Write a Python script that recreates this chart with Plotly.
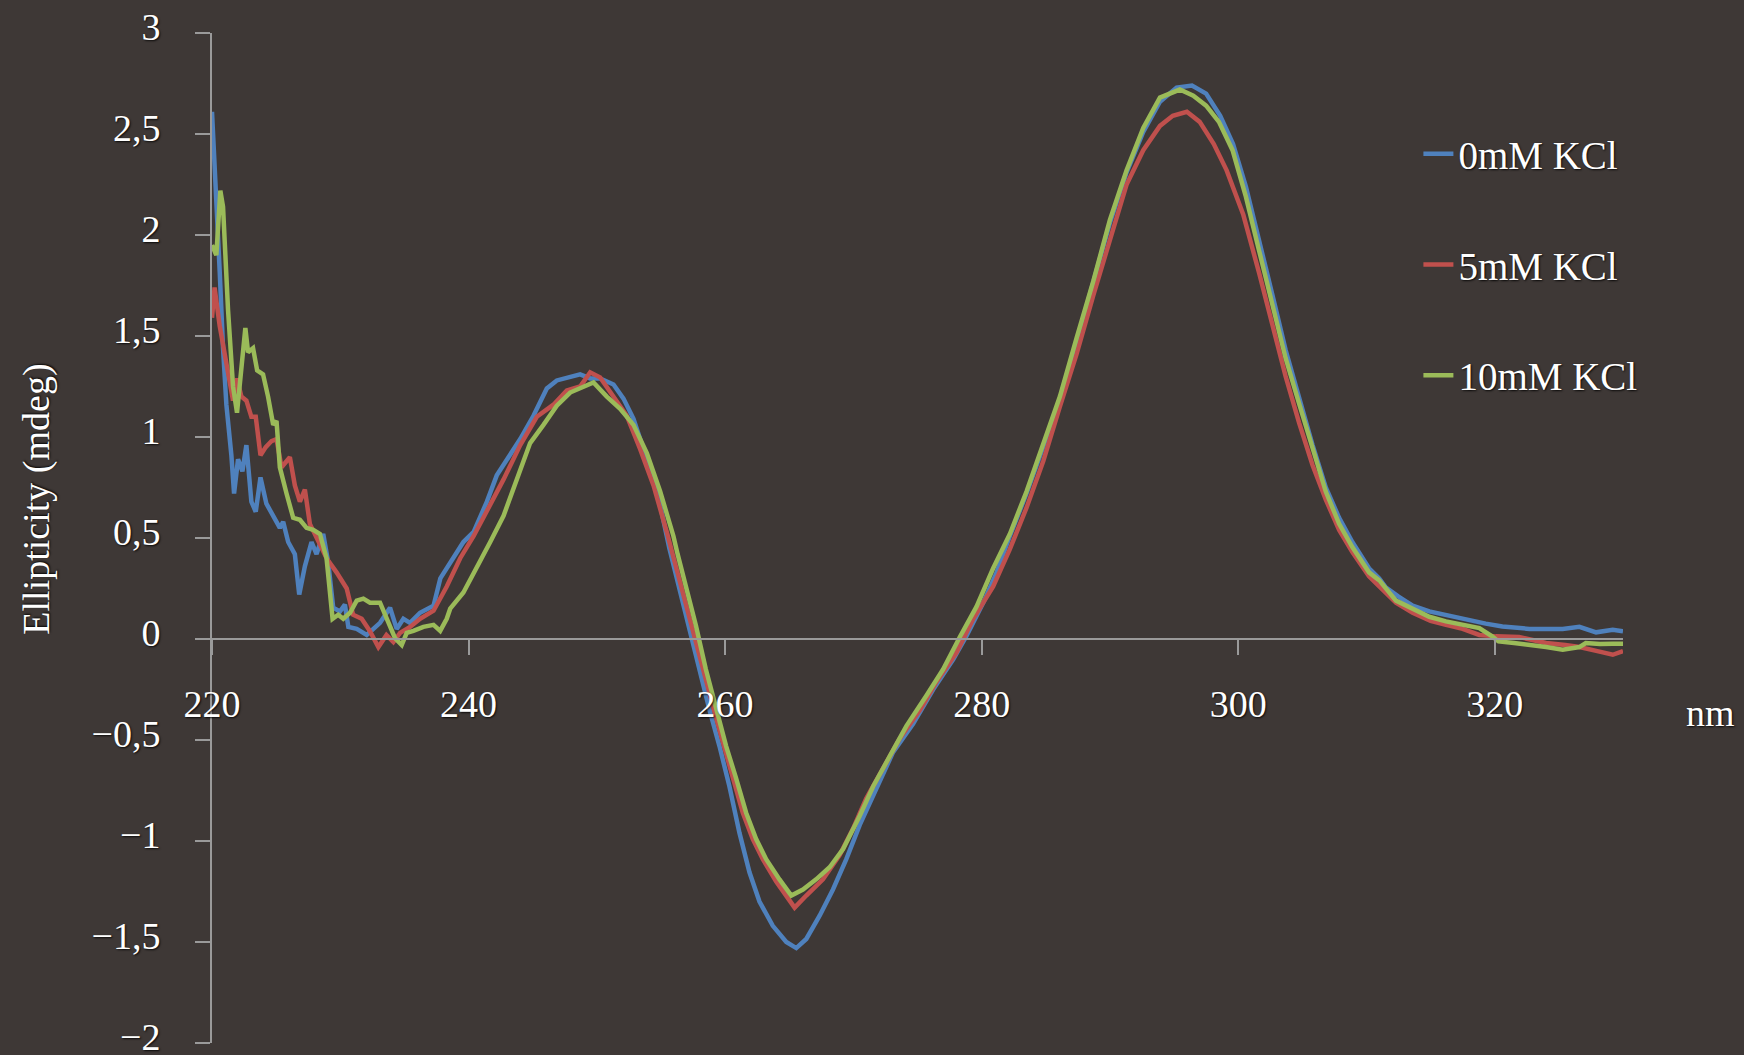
import plotly.graph_objects as go

# ---------------- data ----------------
wl_0mM = [220.0, 220.34, 220.6, 220.86, 221.12, 221.51, 221.72, 222.03, 222.37, 222.68, 223.07, 223.41,
          223.78, 224.24, 224.77, 225.29, 225.55, 225.94, 226.46, 226.8, 227.24, 227.76, 228.15, 228.67,
          229.06, 229.45, 229.97, 230.36, 230.63, 231.28, 232.06, 232.45, 233.1, 233.88, 234.4, 234.92,
          235.44, 236.22, 237.27, 237.8, 238.57, 239.6, 240.4, 241.43, 242.2, 242.99, 244.03, 245.06,
          246.1, 246.88, 247.92, 248.7, 249.48, 250.26, 251.3, 252.08, 252.86, 253.64, 254.68, 255.65,
          256.43, 257.2, 258.0, 258.78, 259.56, 260.34, 261.12, 261.9, 262.68, 263.72, 264.77, 265.55,
          266.33, 267.37, 268.41, 269.45, 270.5, 271.8, 273.1, 274.66, 276.22, 277.79, 278.83, 280.13,
          281.17, 282.2, 283.5, 284.8, 286.1, 287.4, 288.7, 290.0, 291.3, 292.6, 293.9, 295.2, 296.4,
          297.5, 298.6, 299.6, 300.6, 301.64, 302.68, 303.7, 304.75, 305.8, 306.83, 307.87, 308.9,
          310.2, 311.0, 311.5, 312.5, 313.6, 314.9, 316.7, 318.0, 319.3, 320.6, 322.7, 324.0, 325.3,
          326.6, 327.9, 329.2, 330.0]
cd_0mM = [2.61, 2.20, 1.82, 1.44, 1.16, 0.91, 0.72, 0.89, 0.83, 0.96, 0.68, 0.63,
          0.80, 0.67, 0.61, 0.55, 0.58, 0.48, 0.42, 0.22, 0.36, 0.48, 0.42, 0.52,
          0.38, 0.155, 0.136, 0.17, 0.06, 0.05, 0.02, 0.04, 0.08, 0.155, 0.05, 0.10,
          0.08, 0.13, 0.165, 0.30, 0.38, 0.48, 0.53, 0.68, 0.81, 0.89, 0.99, 1.105,
          1.24, 1.28, 1.30, 1.31, 1.29, 1.29, 1.26, 1.19, 1.09, 0.94, 0.74, 0.45,
          0.25, 0.05, -0.15, -0.35, -0.53, -0.73, -0.96, -1.155, -1.30, -1.42, -1.50, -1.53,
          -1.485, -1.37, -1.24, -1.09, -0.92, -0.74, -0.56, -0.42, -0.25, -0.10, 0.016, 0.18,
          0.33, 0.51, 0.72, 0.95, 1.19, 1.47, 1.76, 2.06, 2.31, 2.51, 2.66, 2.73, 2.74,
          2.70, 2.59, 2.45, 2.24, 1.98, 1.70, 1.43, 1.185, 0.96, 0.75, 0.60, 0.48,
          0.35, 0.30, 0.256, 0.21, 0.165, 0.137, 0.11, 0.095, 0.076, 0.062, 0.05, 0.05, 0.05,
          0.06, 0.033, 0.046, 0.038]

wl_5mM = [220.0, 220.2, 220.6, 221.0, 221.25, 221.64, 221.95, 222.29, 222.68, 223.07, 223.41, 223.78,
          224.19, 224.64, 225.03, 225.42, 226.07, 226.46, 226.85, 227.24, 227.63, 228.15, 228.93, 229.71,
          230.5, 231.0, 231.67, 232.3, 232.97, 233.6, 234.14, 234.66, 235.44, 236.22, 237.27, 238.3,
          239.35, 240.4, 241.43, 242.73, 244.03, 245.32, 246.62, 247.66, 248.7, 249.48, 250.26, 251.3,
          252.34, 253.38, 254.42, 255.45, 255.9, 256.7, 257.47, 258.26, 259.04, 259.82, 260.6, 261.38,
          262.16, 262.94, 263.98, 264.77, 265.42, 266.33, 267.63, 268.93, 269.97, 271.0, 272.3, 273.6,
          275.2, 276.5, 278.05, 279.35, 280.9, 282.2, 283.5, 284.8, 286.1, 287.4, 288.7, 290.0,
          291.3, 292.6, 293.9, 294.9, 296.0, 297.0, 298.1, 299.1, 300.4, 301.64, 302.68, 303.7,
          304.75, 305.8, 306.83, 307.87, 308.9, 310.2, 311.0, 312.3, 313.6, 315.0, 316.2, 317.5,
          318.8, 320.1, 321.9, 324.0, 325.5, 326.6, 328.0, 329.2, 330.0]
cd_5mM = [1.59, 1.74, 1.55, 1.40, 1.31, 1.18, 1.29, 1.20, 1.18, 1.10, 1.10, 0.91,
          0.95, 0.98, 0.99, 0.85, 0.90, 0.76, 0.68, 0.74, 0.57, 0.50, 0.40, 0.33,
          0.25, 0.12, 0.10, 0.04, -0.04, 0.02, -0.015, 0.03, 0.06, 0.10, 0.14, 0.26,
          0.40, 0.51, 0.63, 0.79, 0.96, 1.10, 1.16, 1.23, 1.25, 1.32, 1.295, 1.20,
          1.105, 0.94, 0.76, 0.53, 0.42, 0.23, 0.05, -0.15, -0.33, -0.51, -0.68, -0.86,
          -0.99, -1.09, -1.20, -1.27, -1.33, -1.27, -1.19, -1.07, -0.94, -0.79, -0.64, -0.495,
          -0.35, -0.21, -0.066, 0.10, 0.26, 0.445, 0.65, 0.88, 1.15, 1.41, 1.70, 1.98,
          2.25, 2.42, 2.54, 2.59, 2.61, 2.56, 2.45, 2.32, 2.10, 1.81, 1.545, 1.30,
          1.07, 0.86, 0.69, 0.54, 0.43, 0.31, 0.26, 0.18, 0.13, 0.09, 0.07, 0.05,
          0.02, 0.013, 0.01, -0.02, -0.03, -0.04, -0.06, -0.078, -0.06]

wl_10mM = [220.0, 220.34, 220.65, 220.86, 221.25, 221.64, 221.95, 222.29, 222.6, 222.81, 223.2, 223.52,
           223.98, 224.37, 224.77, 225.03, 225.29, 225.81, 226.33, 226.85, 227.37, 227.89, 228.41, 228.93,
           229.4, 229.84, 230.23, 230.76, 231.28, 231.8, 232.32, 233.1, 233.62, 234.27, 234.79, 235.18,
           235.7, 236.48, 237.27, 237.79, 238.3, 238.57, 239.6, 240.65, 241.69, 242.73, 243.77, 244.8,
           245.84, 246.88, 247.92, 248.96, 249.74, 250.78, 251.82, 252.86, 253.9, 254.94, 255.97, 256.3,
           257.08, 257.73, 258.5, 259.3, 260.08, 260.86, 261.64, 262.42, 263.2, 264.24, 265.16, 266.07,
           267.1, 268.15, 269.2, 270.5, 271.54, 272.84, 274.14, 275.7, 277.0, 278.3, 279.6, 280.9,
           282.2, 283.5, 284.8, 286.1, 287.4, 288.7, 290.0, 291.3, 292.6, 293.9, 295.45, 296.5,
           297.5, 298.5, 299.56, 300.6, 301.64, 302.68, 303.7, 304.75, 305.8, 306.83, 307.87, 308.9,
           310.2, 311.0, 312.3, 313.6, 314.9, 316.2, 317.5, 318.8, 319.8, 320.3, 321.5, 322.7,
           324.0, 325.3, 326.6, 327.1, 328.2, 329.2, 330.0]
cd_10mM = [1.95, 1.90, 2.22, 2.14, 1.63, 1.25, 1.12, 1.33, 1.54, 1.42, 1.44, 1.33,
           1.31, 1.20, 1.06, 1.08, 0.85, 0.72, 0.60, 0.59, 0.55, 0.54, 0.52, 0.40,
           0.10, 0.12, 0.10, 0.13, 0.19, 0.20, 0.18, 0.18, 0.10, 0.004, -0.03, 0.03,
           0.04, 0.06, 0.07, 0.04, 0.10, 0.15, 0.23, 0.35, 0.48, 0.61, 0.79, 0.97,
           1.06, 1.155, 1.22, 1.25, 1.27, 1.20, 1.14, 1.06, 0.92, 0.73, 0.51, 0.42,
           0.23, 0.066, -0.15, -0.35, -0.53, -0.69, -0.86, -0.99, -1.09, -1.19, -1.27, -1.24,
           -1.19, -1.13, -1.04, -0.875, -0.73, -0.58, -0.43, -0.28, -0.15, 0.01, 0.16, 0.35,
           0.52, 0.73, 0.96, 1.20, 1.49, 1.77, 2.075, 2.32, 2.53, 2.68, 2.72, 2.69,
           2.64, 2.56, 2.42, 2.19, 1.92, 1.66, 1.39, 1.165, 0.94, 0.73, 0.57, 0.455,
           0.33, 0.29, 0.19, 0.15, 0.11, 0.087, 0.07, 0.054, 0.013, -0.012, -0.02, -0.028,
           -0.04, -0.053, -0.04, -0.02, -0.025, -0.023, -0.023]

series_names = ["0mM KCl", "5mM KCl", "10mM KCl"]
series_colors = ["#4F81BD", "#C0504D", "#9BBB59"]

x_tick_vals = [220, 240, 260, 280, 300, 320]
x_tick_text = ["220", "240", "260", "280", "300", "320"]
y_tick_vals = [-2, -1.5, -1, -0.5, 0, 0.5, 1, 1.5, 2, 2.5, 3]
y_tick_text = ["\u22122", "\u22121,5", "\u22121", "\u22120,5", "0", "0,5", "1", "1,5", "2", "2,5", "3"]

y_title = "Ellipticity (mdeg)"
x_unit = "nm"

# ---------------- figure ----------------
BG = "#3e3836"
AXC = "#9a9a9a"
FONT = "Liberation Serif"
SHADOW = "1px 1px 2px rgba(0,0,0,0.85)"

fig = go.Figure()
for name, xs, ys, col in zip(series_names,
                             [wl_0mM, wl_5mM, wl_10mM],
                             [cd_0mM, cd_5mM, cd_10mM],
                             series_colors):
    fig.add_trace(go.Scatter(x=xs, y=ys, mode="lines", name=name, legendgroup=name,
                             line=dict(color=col, width=4.5)))

fig.update_layout(
    width=1744, height=1055,
    margin=dict(l=212, r=121, t=33, b=12, autoexpand=False),
    paper_bgcolor=BG, plot_bgcolor=BG,
    font=dict(family=FONT, size=38, color="white", shadow=SHADOW),
    showlegend=True,
    legend=dict(x=0.855, y=0.912, xanchor="left", yanchor="top",
                bgcolor="rgba(0,0,0,0)", tracegroupgap=57,
                font=dict(family=FONT, size=39, color="white", shadow=SHADOW)),
    annotations=[
        dict(text=y_title, x=-0.124, y=0.538, xref="paper", yref="paper",
             textangle=-90, showarrow=False, xanchor="center", yanchor="middle",
             font=dict(family=FONT, size=38, color="white", shadow=SHADOW)),
        dict(text=x_unit, x=1.062, y=0.327, xref="paper", yref="paper",
             showarrow=False, xanchor="center", yanchor="middle",
             font=dict(family=FONT, size=38, color="white", shadow=SHADOW)),
    ],
)

fig.update_xaxes(range=[220, 330], tickvals=x_tick_vals, ticktext=x_tick_text, automargin=False,
                 showgrid=False, zeroline=False, showline=True, linecolor=AXC, linewidth=2,
                 ticks="outside", ticklen=15, tickwidth=2, tickcolor=AXC,
                 anchor="free", position=0.4, ticklabelstandoff=16)
fig.update_yaxes(range=[-2, 3], tickvals=y_tick_vals, ticktext=y_tick_text, automargin=False,
                 showgrid=False, zeroline=False, showline=True, linecolor=AXC, linewidth=2,
                 ticks="outside", ticklen=15, tickwidth=2, tickcolor=AXC,
                 ticklabelstandoff=27, ticklabelshift=-6, ticklabeloverflow="allow")

fig.write_html("out.html")
